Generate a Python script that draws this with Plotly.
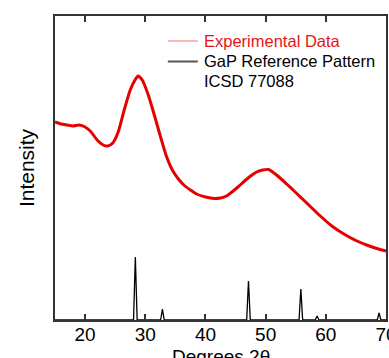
import plotly.graph_objects as go

# Experimental XRD curve (degrees 2theta, intensity in arbitrary units)
exp_x = [15.0, 16.0, 17.0, 18.0, 19.0, 20.0, 21.0, 22.0, 23.0, 23.8, 24.6, 25.5,
         26.5, 27.5, 28.3, 28.8, 29.5, 30.5, 31.5, 32.5, 33.5, 34.5, 35.5, 36.5,
         37.5, 38.5, 40.0, 41.5, 42.5, 43.5, 44.5, 45.5, 46.5, 47.5, 48.5, 49.5,
         50.5, 51.5, 52.5, 53.5, 55.0, 57.0, 59.0, 61.0, 63.0, 65.0, 67.0, 69.0, 70.0]
exp_y = [198, 196, 195, 194, 195, 193, 188, 180, 175, 174, 177, 188,
         210, 230, 240, 244, 240, 225, 205, 184, 164, 150, 141, 134.5,
         130, 126, 123, 121.5, 122, 124, 128.5, 133.5, 139, 144, 148, 150,
         150.5, 146.5, 141.5, 136, 127.5, 116, 104.5, 94, 86, 79.5, 74.5, 70.5, 69]

# GaP reference pattern, ICSD 77088 (peak positions and relative heights)
ref_pos = [28.35, 32.85, 47.15, 55.85, 58.55, 68.85]
ref_h = [63, 11, 39, 31, 4, 7]
half_width = 0.3

legend_labels = ["Experimental Data", "GaP Reference Pattern", "ICSD 77088"]
x_title = "Degrees 2θ"
y_title = "Intensity"

ref_x, ref_y = [15.0], [0]
for p, h in zip(ref_pos, ref_h):
    ref_x += [p - half_width, p, p + half_width]
    ref_y += [0, h, 0]
ref_x.append(70.0)
ref_y.append(0)

FONT = "Arial, Liberation Sans, sans-serif"
RED = "rgb(230,0,0)"

W, H = 389, 358
PL, PR, PT, PB = 55, 386.5, 16, 320


def px(xw):  # window pixel -> paper x
    return (xw - PL) / (PR - PL)


def py(yw):  # window pixel -> paper y
    return (PB - yw) / (PB - PT)


fig = go.Figure()
fig.add_trace(go.Scatter(x=exp_x, y=exp_y, mode="lines",
                         line=dict(color=RED, width=3, shape="spline", smoothing=0.6),
                         showlegend=False, hoverinfo="skip"))
fig.add_trace(go.Scatter(x=ref_x, y=ref_y, mode="lines", line=dict(color="black", width=1.3),
                         showlegend=False, hoverinfo="skip"))

# legend (drawn as key lines + text)
fig.add_shape(type="line", xref="paper", yref="paper", x0=px(168), x1=px(198), y0=py(41), y1=py(41),
              line=dict(color="rgb(245,110,110)", width=1))
fig.add_shape(type="line", xref="paper", yref="paper", x0=px(168), x1=px(198), y0=py(61.5), y1=py(61.5),
              line=dict(color="#555", width=2))
for label, yw, col in zip(legend_labels, [41, 61, 80.5], ["rgb(230,20,20)", "black", "black"]):
    fig.add_annotation(text=label, xref="paper", yref="paper", x=px(202), y=py(yw),
                       xanchor="left", yanchor="middle", showarrow=False,
                       font=dict(size=16.5, family=FONT, color=col))

# x-axis title, partly below the visible page as in the original
fig.add_annotation(text=x_title, xref="paper", yref="paper", x=0.5, y=py(344),
                   xanchor="center", yanchor="top", showarrow=False,
                   font=dict(size=19, family=FONT, color="black"))

fig.update_layout(
    width=W, height=H,
    margin=dict(l=PL, r=W - PR, t=PT, b=H - PB, autoexpand=False),
    paper_bgcolor="white", plot_bgcolor="white",
    font=dict(family=FONT, color="black"),
    showlegend=False,
    xaxis=dict(range=[15, 70], tickvals=[20, 30, 40, 50, 60, 70], ticks="inside", ticklen=6,
               tickwidth=1.5, tickcolor="#333", showline=True, linecolor="#333", linewidth=1.5,
               mirror="ticks", showgrid=False, zeroline=False, ticklabelstandoff=-4,
               ticklabeloverflow="allow",
               tickfont=dict(size=19, family=FONT)),
    yaxis=dict(range=[0, 304], showticklabels=False, ticks="", showline=True, linecolor="#333",
               linewidth=1.5, mirror=True, showgrid=False, zeroline=False,
               title=dict(text=y_title, font=dict(size=21, family=FONT), standoff=13)),
)

fig.write_html("out.html", config={"displayModeBar": False},
               post_script="document.body.style.margin='0';document.body.style.overflow='hidden';")
